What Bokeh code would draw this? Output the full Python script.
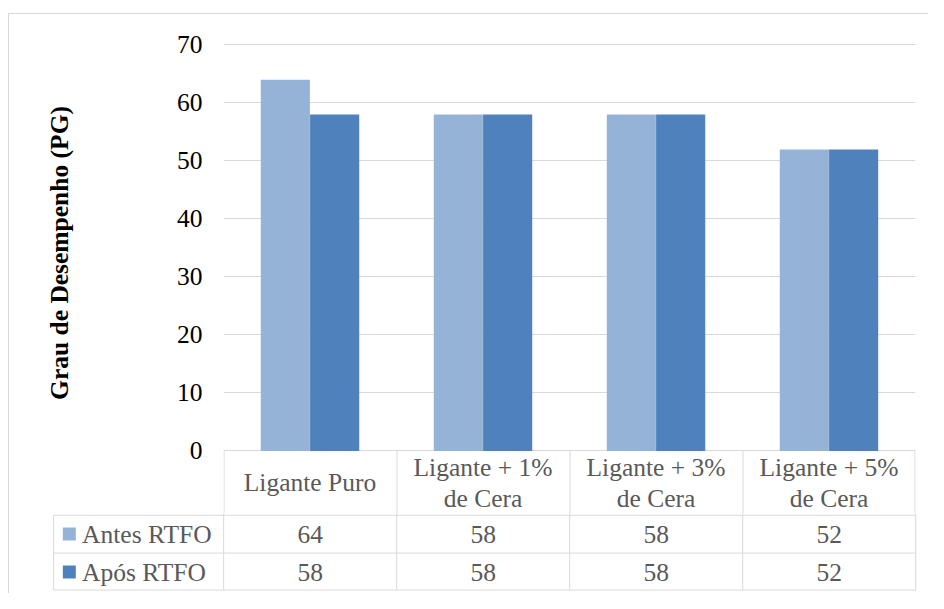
from bokeh.plotting import figure
from bokeh.layouts import column
from bokeh.models import Range1d, FactorRange, FixedTicker, ColumnDataSource
from bokeh.transform import dodge
from bokeh.core.properties import value
from bokeh.embed import file_html
from bokeh.resources import INLINE

# ---- data ----
categories = ["Ligante Puro", "Ligante + 1%\nde Cera", "Ligante + 3%\nde Cera", "Ligante + 5%\nde Cera"]
series_names = ["Antes RTFO", "Após RTFO"]
antes = [64, 58, 58, 52]
apos = [58, 58, 58, 52]
series_colors = ["#95B3D7", "#4F81BD"]
y_ticks = [0, 10, 20, 30, 40, 50, 60, 70]
y_title = "Grau de Desempenho (PG)"

FONT = "Liberation Serif"
GRID = "#D9D9D9"
TXT = "#595959"
FS = "25.5px"

W, H = 928, 593
SX, SY = W / 944, H / 609

src = ColumnDataSource(dict(cat=categories, antes=antes, apos=apos))

# ---- chart (also holds the header row of the data table, below zero) ----
A_H = 513
FRAME_LEFT = 223
Y0 = -10.776          # bottom of the chart frame, in value units (header row area)
HEADER_Y = -5.5       # vertical centre of the header row, in value units
p = figure(x_range=FactorRange(*categories, range_padding=0),
           y_range=Range1d(Y0, 70.2586),
           width=W, height=A_H, output_backend="svg", toolbar_location=None,
           x_axis_location=None, min_border_left=FRAME_LEFT, min_border_right=13,
           min_border_top=43, min_border_bottom=0)
p.frame_align = False
p.border_fill_alpha = 0
p.vbar(x=dodge("cat", -0.1425, range=p.x_range), top="antes", width=0.284,
       source=src, fill_color=series_colors[0], line_color=None)
p.vbar(x=dodge("cat", 0.1425, range=p.x_range), top="apos", width=0.284,
       source=src, fill_color=series_colors[1], line_color=None)

# header row: column borders and category names
p.segment(x0=dodge("cat", -0.497, range=p.x_range), x1=dodge("cat", -0.497, range=p.x_range),
          y0=0, y1=Y0, source=src, line_color=GRID, line_width=1)
lsrc = ColumnDataSource(dict(cat=categories[-1:]))
p.segment(x0=dodge("cat", 0.497, range=p.x_range), x1=dodge("cat", 0.497, range=p.x_range),
          y0=0, y1=Y0, source=lsrc, line_color=GRID, line_width=1)
p.text(x="cat", y=HEADER_Y, text="cat", source=src, text_font=value(FONT), text_font_size=FS,
       text_color=TXT, text_align="center", text_baseline="middle", text_line_height=1.05)

p.outline_line_color = None
p.xgrid.visible = False
p.ygrid.grid_line_color = GRID
p.ygrid.grid_line_width = 1
p.yaxis.ticker = FixedTicker(ticks=y_ticks)
p.yaxis.axis_line_color = None
p.yaxis.major_tick_line_color = None
p.yaxis.minor_tick_line_color = None
p.yaxis.major_tick_out = 0
p.yaxis.minor_tick_out = 0
p.yaxis.major_label_standoff = 21
p.yaxis.major_label_text_font = FONT
p.yaxis.major_label_text_font_size = FS
p.yaxis.major_label_text_color = "#000000"
# the frame also spans the header row, so pad the (bottom) start of the rotated
# title with no-break spaces to centre it on the 0..70 span as in the reference
p.yaxis.axis_label = "\u00a0" * 8 + y_title
p.yaxis.axis_label_text_font = FONT
p.yaxis.axis_label_text_font_size = FS
p.yaxis.axis_label_text_font_style = "bold"
p.yaxis.axis_label_text_color = "#000000"
p.yaxis.axis_label_standoff = 100

# ---- data table rows (x in category widths, y in reference pixels) ----
cw = 176.0
cx0 = 227.0
t = figure(x_range=Range1d(-cx0 / cw, (944 - cx0) / cw), y_range=Range1d(609, A_H / SY),
           width=W, height=H - A_H, min_border=0, output_backend="svg",
           toolbar_location=None, x_axis_location=None, y_axis_location=None)
t.frame_align = False
t.border_fill_alpha = 0
t.background_fill_alpha = 0
t.outline_line_color = None
t.grid.visible = False

n = len(categories)
left_col = (54 - cx0) / cw
top_y = A_H / SY
row_lines = [528.6, 567.5, 605.5]
t.segment(x0=[left_col] * 3, x1=[n] * 3, y0=row_lines, y1=row_lines, line_color=GRID, line_width=1)
t.segment(x0=list(range(n + 1)), x1=list(range(n + 1)), y0=[top_y - 2] * (n + 1),
          y1=[605.5] * (n + 1), line_color=GRID, line_width=1)
t.segment(x0=[left_col], x1=[left_col], y0=[528.6], y1=[605.5], line_color=GRID, line_width=1)

centers = [i + 0.5 for i in range(n)]
row_y = [548.0, 587.0]
for vals, ry in zip([antes, apos], row_y):
    t.text(x=centers, y=[ry] * n, text=[str(v) for v in vals], text_font=value(FONT),
           text_font_size=FS, text_color=TXT, text_align="center", text_baseline="middle")

t.rect(x=[(70 - cx0) / cw] * 2, y=row_y, width=13, height=13, width_units="screen",
       height_units="screen", fill_color=series_colors, line_color=None)
t.text(x=[(83 - cx0) / cw] * 2, y=row_y, text=series_names, text_font=value(FONT),
       text_font_size=FS, text_color=TXT, text_align="left", text_baseline="middle")

frame_css = {
    "background-image": "linear-gradient(#D9D9D9, #D9D9D9), linear-gradient(#D9D9D9, #D9D9D9)",
    "background-size": "calc(100% - 8px) 1px, 1px calc(100% - 13px)",
    "background-position": "8px 13px, 8px 13px",
    "background-repeat": "no-repeat",
}
layout = column(p, t, styles=frame_css)

open("out.html", "w").write(file_html(layout, INLINE))
